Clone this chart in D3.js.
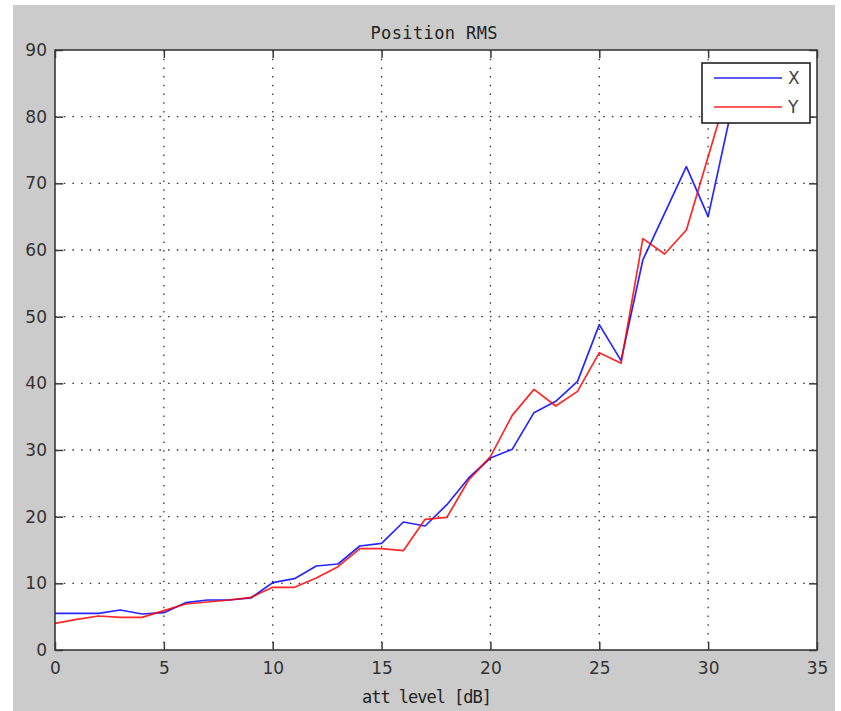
<!DOCTYPE html>
<html>
<head>
<meta charset="utf-8">
<script src="https://cdn.jsdelivr.net/npm/d3@7/dist/d3.min.js"></script>
<style>
  html, body { margin: 0; padding: 0; background: #ffffff; }
  svg { display: block; }
</style>
</head>
<body>
<svg id="chart" width="841" height="711"></svg>
<script>
// ---- Data ----
const attLevels = d3.range(0, 32);
const seriesX = [5.5,5.5,5.5,6.0,5.4,5.6,7.1,7.5,7.5,7.8,10.1,10.7,12.6,12.9,15.6,16.0,19.2,18.6,21.8,25.8,28.8,30.1,35.6,37.3,40.3,48.8,43.4,58.5,65.5,72.5,65.0,80.0];
const seriesY = [4.0,4.6,5.1,4.9,4.9,5.9,6.9,7.2,7.5,7.9,9.4,9.4,10.8,12.5,15.2,15.2,14.9,19.6,19.9,25.5,29.0,35.2,39.1,36.6,38.8,44.6,43.0,61.7,59.4,63.0,74.0,85.0];
const xTicks = [0,5,10,15,20,25,30,35];
const yTicks = [0,10,20,30,40,50,60,70,80,90];
const seriesNames = ["X", "Y"];
const seriesColors = ["#0000ff", "#ff0000"];
const titleText = "Position RMS";
const xLabelText = "att level [dB]";

// ---- Layout ----
const svg = d3.select("#chart");
const L = 55, R = 817, T = 50, B = 650;

svg.append("rect").attr("x", 13).attr("y", 5).attr("width", 822).attr("height", 706).attr("fill", "#cbcbcb");

const x = d3.scaleLinear().domain([0, 35]).range([L, R]);
const y = d3.scaleLinear().domain([0, 90]).range([B, T]);

svg.append("rect").attr("x", L).attr("y", T).attr("width", R - L).attr("height", B - T).attr("fill", "#ffffff");

// grid
const grid = svg.append("g");
grid.selectAll("line.gx").data(xTicks.filter(t => t > 0 && t < 35)).join("line")
  .attr("x1", d => x(d)).attr("x2", d => x(d)).attr("y1", T).attr("y2", B)
  .attr("stroke", "#333").attr("stroke-width", 1.3).attr("stroke-dasharray", "1.5,7.2");
grid.selectAll("line.gy").data(yTicks.filter(t => t > 0 && t < 90)).join("line")
  .attr("x1", L).attr("x2", R).attr("y1", d => y(d)).attr("y2", d => y(d))
  .attr("stroke", "#333").attr("stroke-width", 1.3).attr("stroke-dasharray", "1.5,7.2");

// clip
svg.append("clipPath").attr("id", "clip").append("rect")
  .attr("x", L).attr("y", T).attr("width", R - L).attr("height", B - T);

const line = d3.line().x((d, i) => x(attLevels[i])).y(d => y(d));
const plot = svg.append("g").attr("clip-path", "url(#clip)");
[seriesX, seriesY].forEach((s, k) => {
  plot.append("path").datum(s).attr("d", line).attr("fill", "none")
    .attr("stroke", seriesColors[k]).attr("stroke-width", 1.7).attr("stroke-opacity", 0.85)
    .attr("stroke-linejoin", "round");
});

// axes (ticks inward, box with ticks on all sides)
const tickLen = 8;
const axisColor = "#3a3a3a";
const fontTick = "'DejaVu Sans', sans-serif";
const axB = svg.append("g").attr("transform", `translate(0,${B})`)
  .call(d3.axisBottom(x).tickValues(xTicks).tickSizeInner(-tickLen).tickSizeOuter(0).tickPadding(12));
const axT = svg.append("g").attr("transform", `translate(0,${T})`)
  .call(d3.axisTop(x).tickValues(xTicks).tickSizeInner(-tickLen).tickSizeOuter(0).tickFormat(""));
const axL = svg.append("g").attr("transform", `translate(${L},0)`)
  .call(d3.axisLeft(y).tickValues(yTicks).tickSizeInner(-tickLen).tickSizeOuter(0).tickPadding(8));
const axR = svg.append("g").attr("transform", `translate(${R},0)`)
  .call(d3.axisRight(y).tickValues(yTicks).tickSizeInner(-tickLen).tickSizeOuter(0).tickFormat(""));
[axB, axT, axL, axR].forEach(a => {
  a.select(".domain").remove();
  a.selectAll(".tick line").attr("stroke", axisColor).attr("stroke-width", 1.5);
  a.selectAll("text").attr("fill", "#333").style("font-family", fontTick).style("font-size", "17px");
});
svg.append("rect").attr("x", L).attr("y", T).attr("width", R - L).attr("height", B - T)
  .attr("fill", "none").attr("stroke", axisColor).attr("stroke-width", 1.6);

// title and label
svg.append("text").attr("x", (L + R) / 2 - 2).attr("y", 39).attr("text-anchor", "middle")
  .style("font-family", "'DejaVu Sans Mono', monospace").style("font-size", "17px")
  .attr("fill", "#222").attr("textLength", 127).text(titleText);
svg.append("text").attr("x", (L + R) / 2 - 9).attr("y", 703).attr("text-anchor", "middle")
  .style("font-family", "'DejaVu Sans Mono', monospace").style("font-size", "17px")
  .attr("fill", "#222").attr("textLength", 130).text(xLabelText);

// legend
const lg = svg.append("g");
lg.append("rect").attr("x", 702).attr("y", 63).attr("width", 108).attr("height", 60)
  .attr("fill", "#ffffff").attr("stroke", "#222").attr("stroke-width", 1.6);
seriesNames.forEach((n, k) => {
  const yy = 78 + k * 29;
  lg.append("line").attr("x1", 714).attr("x2", 782).attr("y1", yy).attr("y2", yy)
    .attr("stroke", seriesColors[k]).attr("stroke-width", 1.7).attr("stroke-opacity", 0.85);
  lg.append("text").attr("x", 788).attr("y", yy + 6).style("font-family", "'DejaVu Sans', sans-serif")
    .style("font-size", "17px").attr("fill", "#444").text(n);
});
</script>
</body>
</html>
